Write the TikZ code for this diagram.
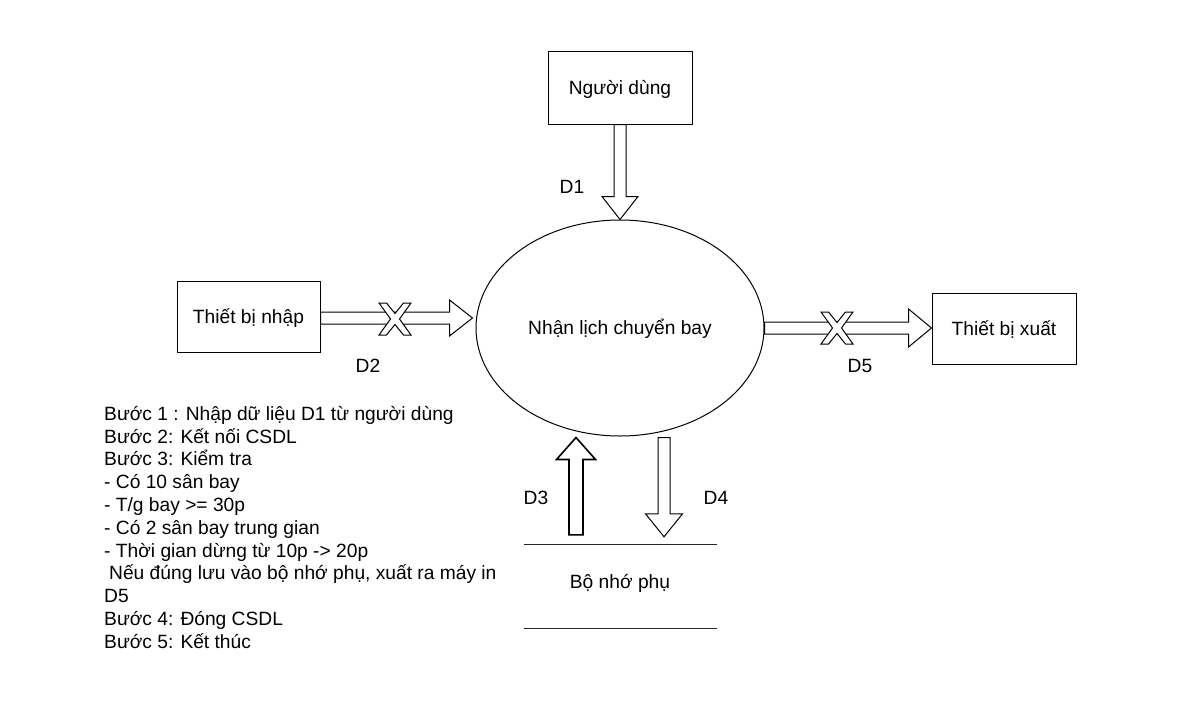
\documentclass[tikz,border=0pt]{standalone}
\usepackage{fontspec}
\setmainfont{Liberation Sans}
\usetikzlibrary{shapes.geometric,calc}
\begin{document}
\begin{tikzpicture}[x=1pt,y=-1pt,
  txt/.style={font=\fontsize{19.2}{22.8}\selectfont, inner sep=0pt, text height=13pt, text depth=0pt},
  box/.style={draw, line width=1pt, minimum width=144pt, minimum height=72pt, inner sep=0pt, font=\fontsize{19.2}{22.8}\selectfont, text height=13pt, text depth=0pt},
  barrow/.style={draw, fill=white, line width=1pt, line join=miter},
  xmark/.pic={\draw[fill=white, line width=1pt, line join=miter]
     (-16,-16) -- (-8.5,-16) -- (0,-5.5) -- (8.5,-16) -- (16,-16) -- (4.5,0) --
     (16,16) -- (8.5,16) -- (0,5.5) -- (-8.5,16) -- (-16,16) -- (-4.5,0) -- cycle;},
]
\fill[white] (0,0) rectangle (1182,725);
\useasboundingbox (0,0) rectangle (1182,725);

% nodes
\node[box] (user) at (620,88) {Người dùng};
\node[box, minimum width=143pt, minimum height=71pt] (in) at (248.5,316.5) {Thiết bị nhập};
\node[box, minimum height=71pt] (out) at (1004,328.5) {Thiết bị xuất};
\node[ellipse, draw, line width=1pt, minimum width=288pt, minimum height=216pt, inner sep=0pt, font=\fontsize{19.2}{22.8}\selectfont, text height=13pt, text depth=0pt] (proc) at (620,328) {Nhận lịch chuyển bay};
\node[minimum width=193pt, minimum height=83pt, inner sep=0pt] (store) at (620.5,586.5) {};
\draw[line width=1pt, black!85] (store.north west) -- (store.north east)
      (store.south west) -- (store.south east);
\node[txt] (storetext) at (620,582) {Bộ nhớ phụ};

% D1
\coordinate (d1s) at (user.south);
\coordinate (d1e) at (proc.north);
\draw[barrow] ($(d1s)+(-6,0)$) -- ($(d1e)+(-6,-23)$) -- ++(-12,0) -- (d1e)
   -- ++(18,-23) -- ++(-12,0) -- ($(d1s)+(6,0)$) -- cycle;
\node[txt] (lD1) at (572,187) {D1};

% D2
\coordinate (d2s) at ($(in.east)+(0,1.5)$);
\coordinate (d2e) at ($(d2s -| proc.west)+(-3,0)$);
\draw[barrow] ($(d2s)+(0,-6)$) -- ($(d2e)+(-23,-6)$) -- ++(0,-12) -- (d2e)
   -- ++(-23,18) -- ++(0,-12) -- ($(d2s)+(0,6)$) -- cycle;
\pic (x2) at (395,319) {xmark};
\node[txt] (lD2) at (368,366) {D2};

% D5
\coordinate (d5s) at (proc.east);
\coordinate (d5e) at (out.west |- proc.east);
\draw[barrow] ($(d5s)+(0,-6)$) -- ($(d5e)+(-23,-6)$) -- ++(0,-13) -- (d5e)
   -- ++(-23,19) -- ++(0,-13) -- ($(d5s)+(0,6)$) -- cycle;
\pic (x5) at (837,328) {xmark};
\node[txt] (lD5) at (860,366) {D5};

% D3 (up)
\coordinate (d3s) at ($(store.north)+(-44.5,-10)$);
\coordinate (d3e) at ($(proc.south)+(-44,1)$);
\draw[barrow, line width=1.6pt] ($(d3s)+(-7,0)$) -- ($(d3e)+(-7,22)$) -- ++(-12.5,0) -- (d3e)
   -- ++(19.5,22) -- ++(-12.5,0) -- ($(d3s)+(7,0)$) -- cycle;
\node[txt] (lD3) at (536,498) {D3};

% D4 (down)
\coordinate (d4s) at ($(proc.south)+(44,1)$);
\coordinate (d4e) at ($(store.north)+(43.5,-8)$);
\draw[barrow] ($(d4s)+(-6,0)$) -- ($(d4e)+(-6,-23)$) -- ++(-12.5,0) -- (d4e)
   -- ++(18.5,-23) -- ++(-12.5,0) -- ($(d4s)+(6,0)$) -- cycle;
\node[txt] (lD4) at (716,498) {D4};

% steps text
\node[font=\fontsize{19.2}{22.8}\selectfont, inner sep=0pt, anchor=north west, align=left] (steps) at (104,406) {%
Bước 1 : Nhập dữ liệu D1 từ người dùng\\
Bước 2: Kết nối CSDL\\
Bước 3: Kiểm tra\\
- Có 10 sân bay\\
- T/g bay >= 30p\\
- Có 2 sân bay trung gian\\
- Thời gian dừng từ 10p -> 20p\\
\hspace*{5pt}Nếu đúng lưu vào bộ nhớ phụ, xuất ra máy in\\
D5\\
Bước 4: Đóng CSDL\\
Bước 5: Kết thúc};
\end{tikzpicture}
\end{document}
